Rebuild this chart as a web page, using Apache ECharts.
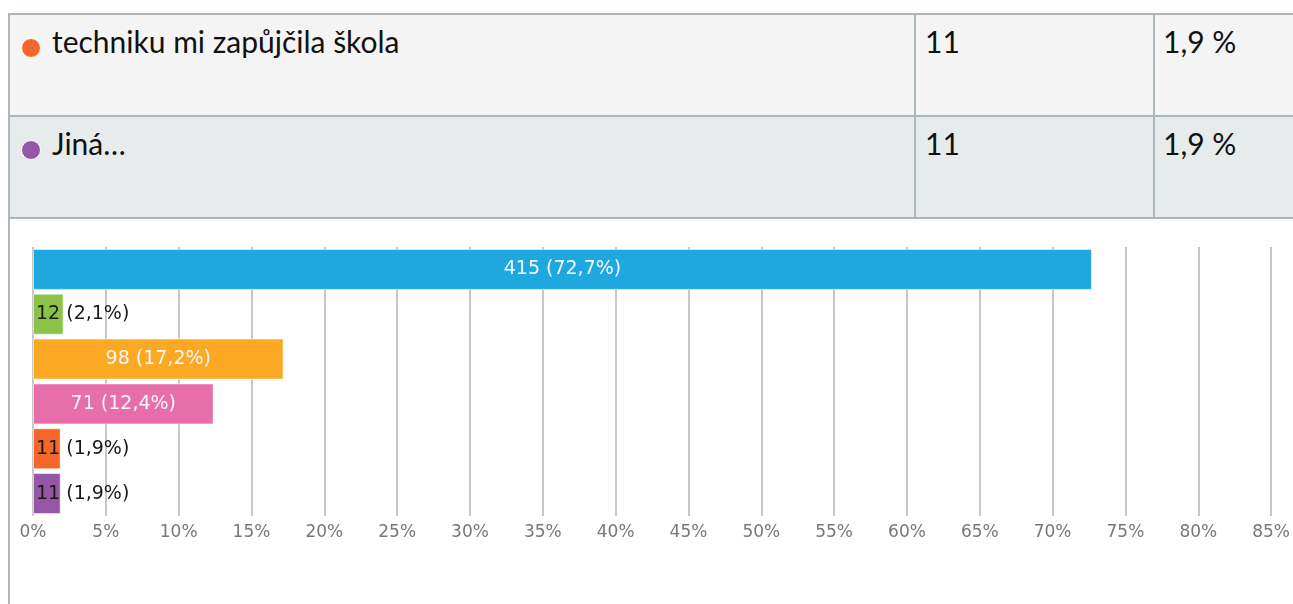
<!DOCTYPE html>
<html>
<head>
<meta charset="utf-8">
<script src="https://cdn.jsdelivr.net/npm/echarts@6/dist/echarts.min.js"></script>
<style>
  html,body{margin:0;padding:0;background:#fff;width:1293px;height:604px;overflow:hidden;}
  #wrap{position:relative;width:1293px;height:604px;}
  .row{position:absolute;left:9px;width:1284px;box-sizing:border-box;}
  .hline{position:absolute;left:9px;width:1284px;height:2px;background:#abb7bd;}
  .vline{position:absolute;width:2px;background:#abb7bd;}
  .txt{position:absolute;font-family:"Lato","Open Sans",sans-serif;font-size:30px;color:#111;line-height:30px;white-space:nowrap;}
  .dot{position:absolute;width:18px;height:18px;border-radius:50%;border:1.5px solid #fff;}
  #chart{position:absolute;left:0;top:219px;width:1293px;height:385px;}
</style>
</head>
<body>
<div id="wrap">
  <div id="table"></div>
  <div id="chart"></div>
</div>
<script>
// ---- data ----
var categories = ['Možnost 1', 'Možnost 2', 'Možnost 3', 'Možnost 4', 'techniku mi zapůjčila škola', 'Jiná…'];
var counts = [415, 12, 98, 71, 11, 11];
var percents = [72.7, 2.1, 17.2, 12.4, 1.9, 1.9];
var colors = ['#1fa8e0', '#8bc34a', '#fba824', '#e86eab', '#f4662a', '#9357a6'];
var xTicks = [0, 5, 10, 15, 20, 25, 30, 35, 40, 45, 50, 55, 60, 65, 70, 75, 80, 85];
var tableIdx = [4, 5];          // rows shown in the table above the chart
var tablePct = ['1,9 %', '1,9 %'];

// ---- table (HTML) ----
var t = document.getElementById('table');
var rowTops = [14, 116];
var rowBgs = ['#f4f4f4', '#e8ebec'];
var html = '';
tableIdx.forEach(function (ci, r) {
  var top = rowTops[r];
  html += '<div class="row" style="top:' + top + 'px;height:103px;background:' + rowBgs[r] + '"></div>';
  html += '<div class="dot" style="left:21px;top:' + (top + 24) + 'px;background:' + colors[ci] + '"></div>';
  html += '<div class="txt" style="left:52px;top:' + (top + 12) + 'px">' + categories[ci] + '</div>';
  html += '<div class="txt" style="left:925px;top:' + (top + 12) + 'px">' + counts[ci] + '</div>';
  html += '<div class="txt" style="left:1163px;top:' + (top + 12) + 'px">' + tablePct[r] + '</div>';
});
html += '<div class="hline" style="top:13px"></div>';
html += '<div class="hline" style="top:115px"></div>';
html += '<div class="hline" style="top:217px"></div>';
html += '<div class="vline" style="left:8px;top:13px;height:591px"></div>';
html += '<div class="vline" style="left:914px;top:13px;height:206px"></div>';
html += '<div class="vline" style="left:1153px;top:13px;height:206px"></div>';
t.innerHTML = html;

// ---- chart ----
function fmtPct(p) { return p.toFixed(1).replace('.', ',') + '%'; }
var barData = counts.map(function (c, i) {
  var big = percents[i] >= 5;
  return {
    value: percents[i],
    itemStyle: { color: colors[i] },
    label: big ? { position: 'inside', color: '#f4f8fb' }
               : { position: 'insideLeft', color: '#1a1a1a', distance: 3 }
  };
});

var chart = echarts.init(document.getElementById('chart'), null, { renderer: 'canvas' });
chart.setOption({
  animation: false,
  grid: { left: 33, right: 17, top: 28, bottom: 88, containLabel: false },
  xAxis: {
    type: 'value', min: 0, max: 85, interval: 5,
    axisLine: { show: false }, axisTick: { show: false },
    splitLine: { show: true, lineStyle: { color: '#c8c8c8', width: 2 } },
    axisLabel: {
      formatter: '{value}%', color: '#777777', fontSize: 17,
      fontFamily: 'DejaVu Sans', margin: 8
    }
  },
  yAxis: {
    type: 'category', data: categories, inverse: true,
    axisLine: { show: false }, axisTick: { show: false }, axisLabel: { show: false }
  },
  series: [{
    type: 'bar',
    data: barData,
    barCategoryGap: '8.5%',
    itemStyle: { borderColor: 'rgba(255,255,255,0.55)', borderWidth: 1 },
    label: {
      show: true, fontSize: 19, fontFamily: 'DejaVu Sans',
      formatter: function (p) { return counts[p.dataIndex] + ' (' + fmtPct(percents[p.dataIndex]) + ')'; }
    }
  }]
});
</script>
</body>
</html>
